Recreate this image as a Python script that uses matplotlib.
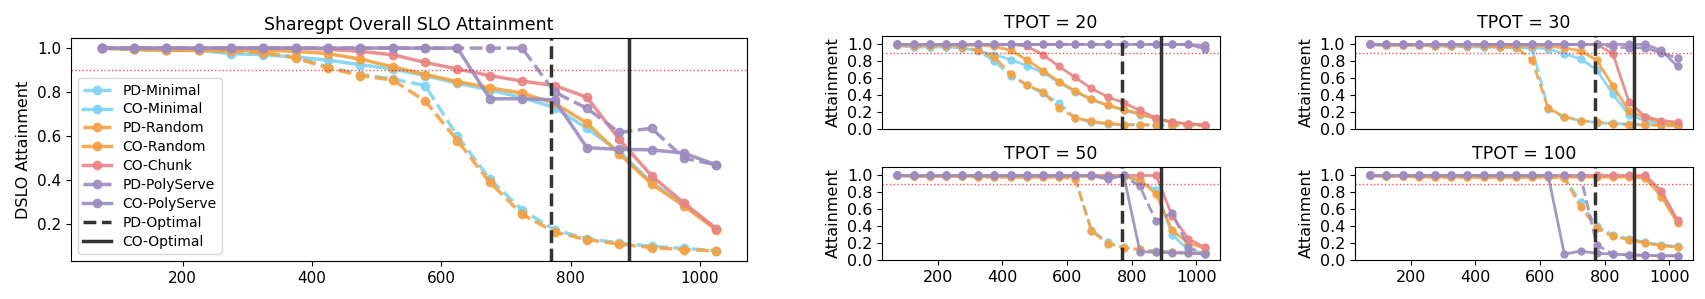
import numpy as np
import matplotlib
matplotlib.use("Agg")
import matplotlib.pyplot as plt

# request rates
rates = [75, 125, 175, 225, 275, 325, 375, 425, 475, 525,
         575, 625, 675, 725, 775, 825, 875, 925, 975, 1025]

names = ["PD-Minimal", "CO-Minimal", "PD-Random", "CO-Random",
         "CO-Chunk", "PD-PolyServe", "CO-PolyServe"]

# overall DSLO attainment
overall_pd_minimal = [1.0, 0.995, 0.99, 0.99, 0.98, 0.975, 0.96, 0.915, 0.88, 0.86,
                      0.83, 0.60, 0.405, 0.265, 0.175, 0.135, 0.115, 0.10, 0.09, 0.08]
overall_co_minimal = [1.0, 0.995, 0.99, 0.99, 0.975, 0.97, 0.96, 0.945, 0.925, 0.905,
                      0.875, 0.84, 0.81, 0.775, 0.73, 0.636, 0.53, 0.39, 0.29, 0.18]
overall_pd_random = [1.0, 0.995, 0.99, 0.99, 0.985, 0.98, 0.955, 0.91, 0.875, 0.855,
                     0.76, 0.58, 0.39, 0.245, 0.165, 0.13, 0.11, 0.094, 0.085, 0.079]
overall_co_random = [1.0, 0.995, 0.99, 0.99, 0.99, 0.99, 0.985, 0.975, 0.95, 0.915,
                     0.88, 0.848, 0.82, 0.795, 0.75, 0.66, 0.52, 0.383, 0.283, 0.175]
overall_co_chunk = [1.0, 1.0, 1.0, 1.0, 1.0, 1.0, 1.0, 0.995, 0.985, 0.97,
                    0.935, 0.905, 0.875, 0.85, 0.83, 0.777, 0.586, 0.42, 0.297, 0.18]
overall_pd_poly = [1.0, 1.0, 1.0, 1.0, 1.0, 1.0, 1.0, 1.0, 1.0, 1.0,
                   1.0, 1.0, 1.0, 1.0, 0.80, 0.727, 0.617, 0.636, 0.50, 0.47]
overall_co_poly = [1.0, 1.0, 1.0, 1.0, 1.0, 1.0, 1.0, 1.0, 1.0, 1.0,
                   1.0, 1.0, 0.77, 0.77, 0.765, 0.548, 0.54, 0.538, 0.523, 0.47]

# TPOT = 20
t20_pd_minimal = [0.99, 0.97, 0.97, 0.97, 0.96, 0.93, 0.80, 0.63, 0.52, 0.42,
                  0.31, 0.13, 0.08, 0.06, 0.05, 0.05, 0.05, 0.04, 0.04, 0.04]
t20_co_minimal = [0.99, 0.97, 0.97, 0.97, 0.96, 0.92, 0.88, 0.82, 0.75, 0.67,
                  0.55, 0.44, 0.35, 0.28, 0.22, 0.17, 0.12, 0.08, 0.06, 0.05]
t20_pd_random = [0.99, 0.98, 0.98, 0.98, 0.97, 0.93, 0.85, 0.65, 0.52, 0.44,
                 0.245, 0.135, 0.09, 0.065, 0.05, 0.05, 0.045, 0.04, 0.04, 0.04]
t20_co_random = [1.0, 0.99, 0.99, 0.99, 0.99, 0.99, 0.98, 0.93, 0.82, 0.69,
                 0.56, 0.45, 0.35, 0.28, 0.23, 0.18, 0.12, 0.08, 0.06, 0.05]
t20_co_chunk = [1.0, 1.0, 1.0, 1.0, 1.0, 1.0, 1.0, 1.0, 0.98, 0.88,
                0.74, 0.61, 0.48, 0.38, 0.31, 0.22, 0.13, 0.08, 0.06, 0.05]
t20_pd_poly = [1.0, 1.0, 1.0, 1.0, 1.0, 1.0, 1.0, 1.0, 1.0, 1.0,
               1.0, 1.0, 1.0, 1.0, 1.0, 1.0, 1.0, 1.0, 1.0, 0.99]
t20_co_poly = [1.0, 1.0, 1.0, 1.0, 1.0, 1.0, 1.0, 1.0, 1.0, 1.0,
               1.0, 1.0, 1.0, 1.0, 1.0, 1.0, 1.0, 1.0, 1.0, 0.95]

# TPOT = 30
t30_pd_minimal = [1.0, 0.99, 0.99, 0.99, 0.98, 0.98, 0.98, 0.97, 0.97, 0.97,
                  0.96, 0.24, 0.14, 0.10, 0.075, 0.065, 0.06, 0.05, 0.05, 0.05]
t30_co_minimal = [1.0, 0.99, 0.99, 0.99, 0.98, 0.98, 0.97, 0.97, 0.97, 0.96,
                  0.96, 0.95, 0.89, 0.83, 0.70, 0.41, 0.17, 0.10, 0.06, 0.05]
t30_pd_random = [1.0, 0.99, 0.99, 0.99, 0.98, 0.98, 0.98, 0.98, 0.97, 0.97,
                 0.815, 0.245, 0.145, 0.10, 0.08, 0.06, 0.05, 0.05, 0.04, 0.035]
t30_co_random = [1.0, 0.99, 0.99, 0.99, 0.99, 0.99, 0.99, 0.99, 0.98, 0.98,
                 0.98, 0.98, 0.96, 0.925, 0.815, 0.51, 0.21, 0.14, 0.07, 0.05]
t30_co_chunk = [1.0, 1.0, 1.0, 1.0, 1.0, 1.0, 1.0, 1.0, 1.0, 1.0,
                1.0, 1.0, 1.0, 1.0, 1.0, 0.89, 0.32, 0.145, 0.10, 0.08]
t30_pd_poly = [1.0, 1.0, 1.0, 1.0, 1.0, 1.0, 1.0, 1.0, 1.0, 1.0,
               1.0, 1.0, 1.0, 1.0, 1.0, 0.97, 0.96, 0.96, 0.90, 0.84]
t30_co_poly = [1.0, 1.0, 1.0, 1.0, 1.0, 1.0, 1.0, 1.0, 1.0, 1.0,
               1.0, 1.0, 1.0, 1.0, 1.0, 1.0, 1.0, 1.0, 0.93, 0.74]

# TPOT = 50
t50_pd_minimal = [1.0, 0.99, 0.99, 0.99, 0.99, 0.98, 0.98, 0.98, 0.98, 0.98,
                  0.98, 0.97, 0.36, 0.21, 0.15, 0.12, 0.11, 0.10, 0.09, 0.08]
t50_co_minimal = [1.0, 0.99, 0.99, 0.99, 0.99, 0.99, 0.99, 0.99, 0.99, 0.99,
                  0.99, 0.99, 0.99, 0.99, 0.99, 0.93, 0.83, 0.30, 0.12, 0.08]
t50_pd_random = [1.0, 0.99, 0.99, 0.99, 0.99, 0.98, 0.98, 0.98, 0.98, 0.98,
                 0.98, 0.96, 0.345, 0.195, 0.145, 0.125, 0.10, 0.09, 0.08, 0.08]
t50_co_random = [1.0, 0.99, 0.99, 0.99, 0.99, 0.99, 0.99, 0.99, 0.99, 0.99,
                 0.99, 0.99, 0.99, 0.99, 0.99, 0.95, 0.78, 0.35, 0.20, 0.14]
t50_co_chunk = [1.0, 1.0, 1.0, 1.0, 1.0, 1.0, 1.0, 1.0, 1.0, 1.0,
                1.0, 1.0, 1.0, 1.0, 1.0, 1.0, 1.0, 0.52, 0.25, 0.15]
t50_pd_poly = [1.0, 1.0, 1.0, 1.0, 1.0, 1.0, 1.0, 1.0, 1.0, 1.0,
               1.0, 1.0, 1.0, 0.99, 1.0, 0.87, 0.46, 0.56, 0.15, 0.07]
t50_co_poly = [1.0, 1.0, 1.0, 1.0, 1.0, 1.0, 1.0, 1.0, 1.0, 1.0,
               1.0, 1.0, 1.0, 0.955, 1.0, 0.10, 0.09, 0.087, 0.08, 0.07]

# TPOT = 100
t100_pd_minimal = [1.0, 0.99, 0.99, 0.99, 0.99, 0.99, 0.99, 0.99, 0.99, 0.99,
                   0.99, 0.99, 0.98, 0.69, 0.40, 0.30, 0.25, 0.21, 0.18, 0.16]
t100_co_minimal = [1.0, 0.99, 0.99, 0.99, 0.99, 0.99, 0.99, 0.99, 0.99, 0.99,
                   0.99, 0.99, 0.99, 0.99, 0.99, 0.99, 0.99, 0.99, 0.79, 0.45]
t100_pd_random = [1.0, 0.99, 0.99, 0.99, 0.98, 0.98, 0.98, 0.98, 0.98, 0.98,
                  0.98, 0.98, 0.97, 0.63, 0.375, 0.28, 0.24, 0.20, 0.17, 0.15]
t100_co_random = [1.0, 0.99, 0.99, 0.98, 0.98, 0.98, 0.98, 0.98, 0.98, 0.98,
                  0.98, 0.98, 0.98, 0.98, 0.98, 0.98, 0.98, 0.97, 0.75, 0.435]
t100_co_chunk = [1.0, 1.0, 1.0, 1.0, 1.0, 1.0, 1.0, 1.0, 1.0, 1.0,
                 1.0, 1.0, 1.0, 1.0, 1.0, 1.0, 1.0, 1.0, 0.82, 0.47]
t100_pd_poly = [1.0, 1.0, 1.0, 1.0, 1.0, 1.0, 1.0, 1.0, 1.0, 1.0,
                1.0, 1.0, 1.0, 1.0, 0.18, 0.07, 0.06, 0.055, 0.05, 0.05]
t100_co_poly = [1.0, 1.0, 1.0, 1.0, 1.0, 1.0, 1.0, 1.0, 1.0, 1.0,
                1.0, 1.0, 0.07, 0.105, 0.08, 0.07, 0.06, 0.055, 0.05, 0.05]

pd_optimal = 770
co_optimal = 890
slo_target = 0.9

colors = ["#80d4f2", "#80d4f2", "#f5a142", "#f5a142", "#e98484", "#9d8bbf", "#9d8bbf"]
styles = ["--", "-", "--", "-", "-", "--", "-"]

overall = [overall_pd_minimal, overall_co_minimal, overall_pd_random, overall_co_random,
           overall_co_chunk, overall_pd_poly, overall_co_poly]
panels = [
    ("TPOT = 20", [t20_pd_minimal, t20_co_minimal, t20_pd_random, t20_co_random,
                   t20_co_chunk, t20_pd_poly, t20_co_poly]),
    ("TPOT = 30", [t30_pd_minimal, t30_co_minimal, t30_pd_random, t30_co_random,
                   t30_co_chunk, t30_pd_poly, t30_co_poly]),
    ("TPOT = 50", [t50_pd_minimal, t50_co_minimal, t50_pd_random, t50_co_random,
                   t50_co_chunk, t50_pd_poly, t50_co_poly]),
    ("TPOT = 100", [t100_pd_minimal, t100_co_minimal, t100_pd_random, t100_co_random,
                    t100_co_chunk, t100_pd_poly, t100_co_poly]),
]


def draw(ax, series, ms=5, lw=2):
    for name, ys, c, ls in zip(names, series, colors, styles):
        ax.plot(rates, ys, ls, color=c, marker="o", ms=ms, lw=lw, label=name, alpha=0.9)
    ax.axhline(slo_target, color="red", ls=":", lw=1, alpha=0.7)
    ax.axvline(pd_optimal, color="#333333", ls="--", lw=2.5, label="PD-Optimal")
    ax.axvline(co_optimal, color="#333333", ls="-", lw=2.5, label="CO-Optimal")


fig = plt.figure(figsize=(17.05, 2.99), dpi=100)

ax = fig.add_axes([0.0416, 0.127, 0.3965, 0.746])
draw(ax, overall, ms=6, lw=2.5)
ax.set_title("Sharegpt Overall SLO Attainment", fontsize=12.5)
ax.set_ylabel("DSLO Attainment", fontsize=11.5)
ax.tick_params(labelsize=11)
ax.legend(loc="lower left", fontsize=10, labelspacing=0.35)

pos = [(0.5173, 0.5686), (0.7947, 0.5686), (0.5173, 0.1304), (0.7947, 0.1304)]
for i, ((title, series), (l, b)) in enumerate(zip(panels, pos)):
    a = fig.add_axes([l, b, 0.1982, 0.311])
    draw(a, series, ms=5, lw=2)
    a.set_ylim(0, 1.1)
    a.set_yticks([0.0, 0.2, 0.4, 0.6, 0.8, 1.0])
    a.set_title(title, fontsize=12.5)
    a.set_ylabel("Attainment", fontsize=11.5)
    a.tick_params(labelsize=11.5)
    if i < 2:
        a.tick_params(axis="x", bottom=False, labelbottom=False)

fig.savefig("out.png", dpi=100)
